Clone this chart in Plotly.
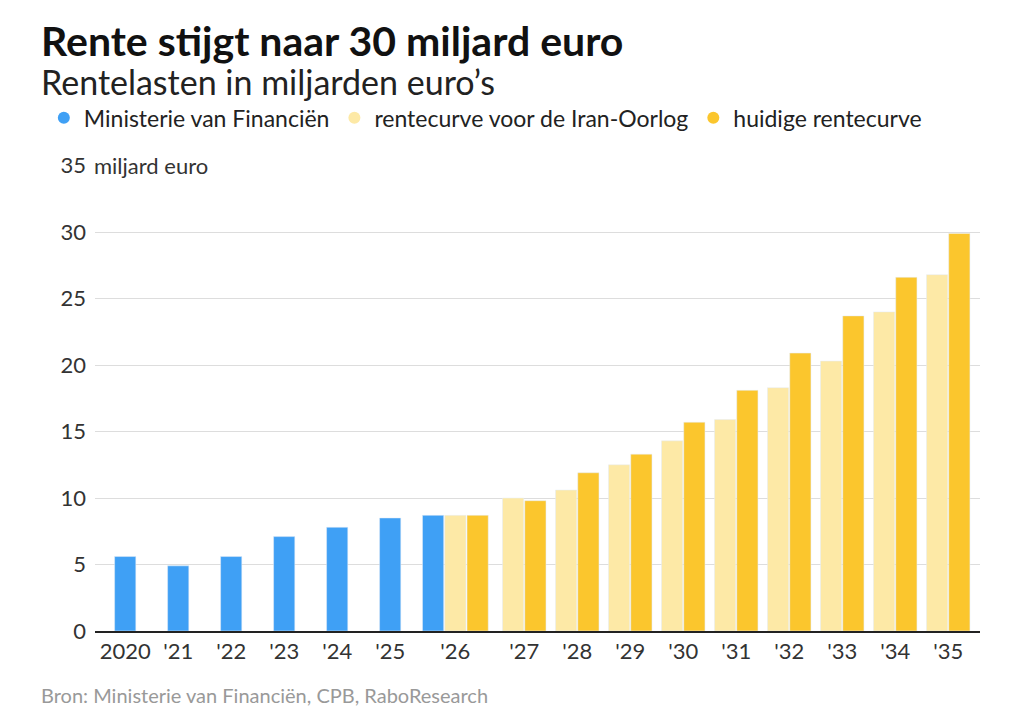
import plotly.graph_objects as go

# Data
years_blue = ["2020", "'21", "'22", "'23", "'24", "'25", "'26"]
blue_vals = [5.6, 4.9, 5.6, 7.1, 7.8, 8.5, 8.7]
years_curve = ["'26", "'27", "'28", "'29", "'30", "'31", "'32", "'33", "'34", "'35"]
light_vals = [8.7, 10.0, 10.6, 12.5, 14.3, 15.9, 18.3, 20.3, 24.0, 26.8]
dark_vals = [8.7, 9.8, 11.9, 13.3, 15.7, 18.1, 20.9, 23.7, 26.6, 29.9]
all_labels = ["2020", "'21", "'22", "'23", "'24", "'25", "'26",
              "'27", "'28", "'29", "'30", "'31", "'32", "'33", "'34", "'35"]

BLUE = "#3fa0f5"
LIGHT = "#fde9a6"
DARK = "#fbc62d"

# category centre positions (the '26 group has three bars)
pos = {lab: i if i <= 5 else (6.23 if i == 6 else i + 0.53) for i, lab in enumerate(all_labels)}
w = 0.40

x_blue = [pos[y] - (0.42 if y == "'26" else 0) for y in years_blue]
x_light = [pos[y] - (0.0 if y == "'26" else 0.21) for y in years_curve]
x_dark = [pos[y] + (0.42 if y == "'26" else 0.21) for y in years_curve]

fig = go.Figure()
fig.add_trace(go.Bar(x=x_blue, y=blue_vals, width=w, marker_color=BLUE, showlegend=False))
fig.add_trace(go.Bar(x=x_light, y=light_vals, width=w, marker_color=LIGHT, showlegend=False))
fig.add_trace(go.Bar(x=x_dark, y=dark_vals, width=w, marker_color=DARK, showlegend=False))

for name, col in [("Ministerie van Financiën", BLUE),
                  ("rentecurve voor de Iran-Oorlog", LIGHT),
                  ("huidige rentecurve", DARK)]:
    fig.add_trace(go.Scatter(x=[None], y=[None], mode="markers", name=name,
                             marker=dict(color=col, size=21, symbol="circle")))

fig.update_layout(
    width=1024, height=724,
    paper_bgcolor="white", plot_bgcolor="white",
    font=dict(family="Lato, sans-serif", size=22, color="#333"),
    margin=dict(l=87, r=52, t=154, b=101),
    barmode="overlay",
    showlegend=True,
    legend=dict(orientation="h", x=0.035, xref="container", y=0.878, yref="container",
                yanchor="top", font=dict(size=23, color="#222"),
                itemsizing="constant", traceorder="normal"),
    xaxis=dict(range=[-0.57, 16.13], tickmode="array",
               tickvals=[pos[l] for l in all_labels], ticktext=all_labels,
               showgrid=False, showline=True, linecolor="#222", linewidth=1.5,
               ticks="", tickfont=dict(size=22, color="#333")),
    yaxis=dict(range=[0, 35], tickmode="array", tickvals=[0, 5, 10, 15, 20, 25, 30, 35],
               ticktext=["0", "5", "10", "15", "20", "25", "30", "35"],
               showgrid=True, gridcolor="#dddddd", zeroline=False, ticks="",
               tickfont=dict(size=22, color="#333"), ticklabelstandoff=8),
)

fig.add_annotation(text="<b>Rente stijgt naar 30 miljard euro</b>", xref="paper", yref="paper",
                   x=-0.063, y=1.0, xanchor="left", yanchor="bottom", yshift=99,
                   showarrow=False, font=dict(size=41, color="#111"))
fig.add_annotation(text="Rentelasten in miljarden euro’s", xref="paper", yref="paper",
                   x=-0.063, y=1.0, xanchor="left", yanchor="bottom", yshift=62,
                   showarrow=False, font=dict(size=34, color="#222"))
fig.add_annotation(text="miljard euro", xref="paper", yref="y", x=-0.003, y=35,
                   xanchor="left", yanchor="middle", showarrow=False, bgcolor="white",
                   font=dict(size=22, color="#333"))
fig.add_annotation(text="Bron: Ministerie van Financiën, CPB, RaboResearch", xref="paper",
                   yref="paper", x=-0.063, y=0, xanchor="left", yanchor="top", yshift=-50,
                   showarrow=False, font=dict(size=20, color="#999"))

fig.write_html("out.html")
